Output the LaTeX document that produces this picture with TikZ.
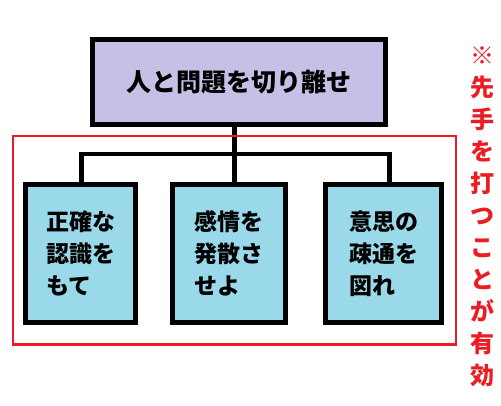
\documentclass[tikz,border=0pt]{standalone}
\usepackage{fontspec}
\setmainfont{Noto Sans CJK JP}
\usepackage{tikz}
\usetikzlibrary{positioning}
\tikzstyle{chart} = [x = 1pt, y = -1pt]
\definecolor{topColor}{RGB}{200,191,231}
\definecolor{childColor}{RGB}{153,217,234}
\definecolor{noteColor}{RGB}{237,28,36}
\tikzstyle{topStyle} = [draw=black, fill=topColor, line width=5pt, minimum width=293pt, minimum height=85pt, font=\fontsize{25}{32}\selectfont\bfseries]
\tikzstyle{childStyle} = [draw=black, fill=childColor, line width=5pt, minimum height=138pt, align=left, font=\fontsize{23}{32}\selectfont\bfseries]
\tikzstyle{linkLine} = [line width=4.5pt, color=black]
\tikzstyle{groupLine} = [line width=2.8pt, color=noteColor]
\tikzstyle{noteText} = [text=noteColor, align=center, font=\fontsize{24}{32}\selectfont\bfseries]
\newcommand{\childBox}[4]{\node [childStyle, minimum width=#3] (#1) at (#2) {#4};}

\begin{document}
\begin{tikzpicture}[chart]
  \useasboundingbox (0,0) rectangle (501,405);
  \node [topStyle] (top) at (239,82) {人と問題を切り離せ};
  \childBox{left}{80.5,253.5}{110pt}{正確な\\認識を\\もて}
  \childBox{middle}{229,253.5}{113pt}{感情を\\発散さ\\せよ}
  \childBox{right}{383.5,253.5}{116pt}{意思の\\疎通を\\図れ}
  % bar between the boxes
  \coordinate (hub) at (234.5,154);
  \coordinate (barLeft) at (81.5,154);
  \coordinate (barRight) at (389.5,154);
  \draw [linkLine] (hub |- top.south) -- (hub |- middle.north);
  \draw [linkLine, line join=miter] (barLeft |- left.north) -- (barLeft) -- (barRight) -- (barRight |- right.north);
  % red group and note
  \draw [groupLine] (13,136) rectangle (456,344.5);
  \node [noteText] (note) at (482,217) {※\\先\\手\\を\\打\\つ\\こ\\と\\が\\有\\効};
\end{tikzpicture}
\end{document}
